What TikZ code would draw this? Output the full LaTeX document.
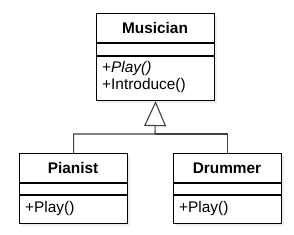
\documentclass[tikz,border=0pt]{standalone}
\usepackage{fontspec}
\setmainfont{Liberation Sans}
\usetikzlibrary{arrows.meta}
\begin{document}
\begin{tikzpicture}[x=1pt,y=-1pt,
  clsbox/.style={draw=black, line width=1.1pt, fill=white, rectangle, inner sep=0pt, anchor=north west},
  shadowbox/.style={fill=black!7, draw=none},
  sepline/.style={draw=black, line width=1.1pt},
  ttl/.style={font=\fontsize{15.4}{17}\selectfont\bfseries, inner sep=0pt},
  meth/.style={font=\fontsize{15.4}{17}\selectfont, anchor=west, inner sep=0pt},
  conn/.style={draw=black!75, line width=1.1pt},
  inh/.style={-{Triangle[open,length=25pt,width=22pt,line width=1.1pt]}}]
\useasboundingbox (0,0) rectangle (294,235);
% shadows
\fill[shadowbox] (99,16) rectangle (217,103);
\fill[shadowbox] (22,156) rectangle (130,226);
\fill[shadowbox] (176,156) rectangle (284,226);
% Musician
\node[clsbox, minimum width=118pt, minimum height=87pt] (mus) at (96,13) {};
\draw[sepline] (96,43) -- (214,43);
\draw[sepline] (96,56) -- (214,56);
\node[ttl] (musT) at (155,28) {Musician};
\node[meth] (musM1) at (102,68.5) {+\textit{Play()}};
\node[meth] (musM2) at (102,86) {+Introduce()};
% Pianist
\node[clsbox, minimum width=108pt, minimum height=70pt] (pia) at (19,153) {};
\draw[sepline] (19,183) -- (127,183);
\draw[sepline] (19,195) -- (127,195);
\node[ttl] (piaT) at (73,168) {Pianist};
\node[meth] (piaM1) at (25,209) {+Play()};
% Drummer
\node[clsbox, minimum width=108pt, minimum height=70pt] (dru) at (173,153) {};
\draw[sepline] (173,183) -- (281,183);
\draw[sepline] (173,195) -- (281,195);
\node[ttl] (druT) at (227,168) {Drummer};
\node[meth] (druM1) at (179,209) {+Play()};
% connectors
\coordinate (junc) at (155,134);
\draw[conn] (dru.north) |- (junc);
\draw[conn, inh] (pia.north) |- (junc) -- (mus.south);
\end{tikzpicture}
\end{document}
